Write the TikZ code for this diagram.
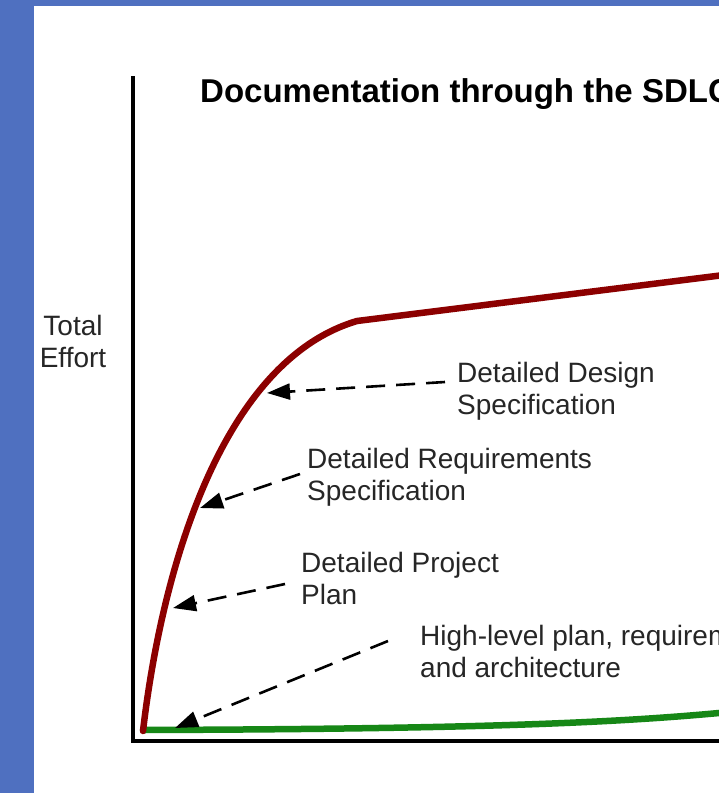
\documentclass[tikz,border=0pt]{standalone}
\usepackage{fontspec}
\setmainfont{Liberation Sans}
\usetikzlibrary{arrows.meta}
\definecolor{frameblue}{RGB}{79,112,192}
\definecolor{curvered}{RGB}{140,0,0}
\definecolor{curvegreen}{RGB}{22,135,22}
\definecolor{labeltext}{RGB}{38,38,38}
\begin{document}
\begin{tikzpicture}[x=1bp,y=-1bp,
  lbl/.style={anchor=base west, inner sep=0pt, text=labeltext,
    font=\fontsize{28bp}{32bp}\selectfont},
  pointer/.style={draw=black, line width=2.6bp, dash pattern=on 19bp off 11bp,
    -{Triangle[length=23bp,width=16bp]}},
  effort/.style={line width=6.5bp, line cap=round, line join=round}]
\useasboundingbox (0,0) rectangle (719,793);
\clip (0,0) rectangle (719,793);
\fill[white] (0,0) rectangle (719,793);
% slide frame
\fill[frameblue] (0,0) rectangle (34,793);
\fill[frameblue] (0,0) rectangle (719,6);

% axes
\coordinate (ytop) at (133,76);
\coordinate (origin) at (133,741);
\coordinate (xend) at (740,741);
\draw[line width=3.2bp] (ytop) -- (origin) -- (xend);

% title and axis label
\node[lbl, font=\bfseries\fontsize{33bp}{36bp}\selectfont, text=black] (title) at (200,102)
  {Documentation through the SDLC};
\node[anchor=base, inner sep=0pt, text=labeltext, font=\fontsize{28bp}{32bp}\selectfont] (total) at (73,335) {Total};
\node[anchor=base, inner sep=0pt, text=labeltext, font=\fontsize{28bp}{32bp}\selectfont] (effort) at (73,367) {Effort};

% effort curves
\draw[effort, curvegreen] (143,730) .. controls (450,729) and (600,724) .. (719,713) -- (740,711);
\draw[effort, curvered] (143,731) .. controls (163,560) and (225,360) .. (357,321) -- (740,273);

% labels
\node[lbl] (design1) at (457,382) {Detailed Design};
\node[lbl] (design2) at (457,414) {Specification};
\node[lbl] (req1) at (307,468) {Detailed Requirements};
\node[lbl] (req2) at (307,500) {Specification};
\node[lbl] (plan1) at (301,572) {Detailed Project};
\node[lbl] (plan2) at (301,604) {Plan};
\node[lbl] (high1) at (420,645) {High-level plan, requirements,};
\node[lbl] (high2) at (420,677) {and architecture};

% pointers onto the curves
\coordinate (tailD) at (445,382);
\coordinate (tipD) at (267,393);
\coordinate (tailR) at (300,474);
\coordinate (tipR) at (200,508);
\coordinate (tailP) at (285,584);
\coordinate (tipP) at (173,608);
\coordinate (tailH) at (388,641);
\coordinate (tipH) at (175,728);
\draw[pointer] (tailD) -- (tipD);
\draw[pointer] (tailR) -- (tipR);
\draw[pointer] (tailP) -- (tipP);
\draw[pointer] (tailH) -- (tipH);
\end{tikzpicture}
\end{document}
